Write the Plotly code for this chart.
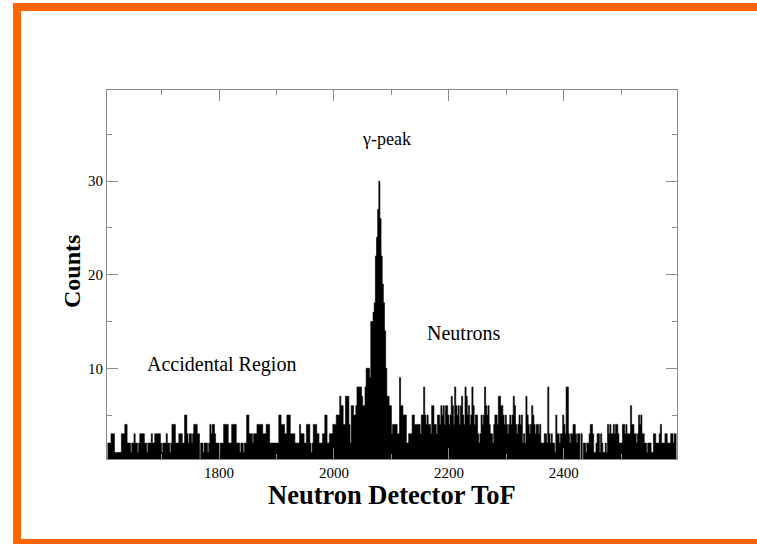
import numpy as np
import plotly.graph_objects as go

# Histogram of neutron detector time-of-flight: bins of 2 channels from 1606
bin_start = 1606
bin_width = 2

counts_1606_1706 = [2, 2, 2, 3, 3, 3, 1, 1, 1, 1, 1, 1, 3, 3, 3, 4, 4, 2, 2, 2,
                    1, 2, 2, 3, 2, 2, 1, 2, 3, 3, 3, 3, 2, 2, 1, 2, 2, 2, 3, 2,
                    2, 3, 3, 3, 3, 3, 2, 1, 2, 2]
counts_1706_1806 = [2, 3, 2, 2, 1, 2, 4, 4, 4, 2, 2, 2, 3, 3, 3, 2, 2, 5, 5, 3,
                    2, 3, 3, 2, 3, 4, 4, 4, 3, 3, 0, 2, 2, 1, 2, 2, 2, 1, 2, 4,
                    3, 4, 4, 3, 2, 2, 2, 1, 2, 2]
counts_1806_1906 = [2, 4, 4, 4, 4, 2, 2, 2, 4, 4, 4, 4, 2, 2, 2, 1, 2, 2, 1, 2,
                    2, 5, 5, 3, 3, 3, 2, 3, 3, 3, 4, 4, 4, 4, 4, 3, 3, 3, 4, 4,
                    4, 2, 2, 2, 2, 2, 2, 2, 2, 5]
counts_1906_2006 = [5, 4, 4, 4, 3, 3, 5, 5, 5, 3, 3, 3, 3, 2, 2, 2, 2, 4, 3, 3,
                    3, 2, 2, 4, 4, 4, 2, 1, 2, 4, 4, 4, 3, 3, 2, 2, 2, 3, 3, 5,
                    5, 2, 2, 3, 3, 3, 4, 4, 4, 5]
counts_2006_2106 = [5, 5, 7, 6, 6, 4, 4, 7, 7, 7, 4, 2, 6, 6, 5, 5, 6, 8, 8, 8,
                    8, 7, 6, 6, 8, 10, 10, 10, 9, 15, 15, 16, 17, 22, 24, 27, 30, 26, 22, 19,
                    17, 14, 10, 7, 7, 6, 6, 3, 4, 4]
counts_2106_2206 = [4, 4, 3, 3, 9, 6, 6, 5, 5, 5, 2, 2, 3, 3, 3, 5, 5, 4, 4, 4,
                    4, 4, 3, 5, 5, 8, 5, 4, 5, 4, 4, 3, 6, 6, 4, 4, 3, 5, 5, 4,
                    6, 5, 6, 4, 6, 6, 5, 4, 5, 7]
counts_2206_2306 = [6, 4, 8, 6, 5, 6, 4, 6, 7, 5, 4, 8, 7, 5, 6, 4, 5, 8, 6, 4,
                    5, 5, 3, 2, 3, 5, 4, 5, 8, 6, 5, 6, 4, 3, 3, 2, 4, 5, 5, 4,
                    7, 7, 6, 6, 5, 4, 5, 4, 3, 4]
counts_2306_2406 = [5, 4, 5, 7, 6, 4, 3, 4, 5, 4, 5, 2, 3, 2, 7, 5, 4, 3, 4, 6,
                    5, 4, 3, 4, 4, 3, 4, 2, 2, 2, 3, 3, 2, 8, 3, 2, 3, 2, 2, 1,
                    5, 3, 3, 2, 3, 3, 5, 4, 3, 8]
counts_2406_2506 = [8, 3, 2, 3, 3, 4, 4, 3, 2, 3, 3, 0, 3, 0, 2, 2, 1, 2, 2, 3,
                    4, 4, 3, 1, 1, 2, 3, 3, 1, 3, 2, 1, 1, 2, 1, 4, 3, 4, 3, 3,
                    4, 3, 4, 4, 3, 2, 2, 2, 4, 4]
counts_2506_2596 = [3, 4, 3, 3, 3, 6, 4, 4, 3, 3, 2, 3, 5, 4, 5, 3, 3, 2, 2, 1,
                    2, 2, 2, 1, 1, 3, 3, 2, 2, 2, 3, 4, 2, 2, 2, 3, 3, 2, 2, 2,
                    3, 3, 2, 3, 3]

counts = (counts_1606_1706 + counts_1706_1806 + counts_1806_1906 + counts_1906_2006
          + counts_2006_2106 + counts_2106_2206 + counts_2206_2306 + counts_2306_2406
          + counts_2406_2506 + counts_2506_2596)

x_ticks = [1800, 2000, 2200, 2400]
y_ticks = [10, 20, 30]

edges = bin_start + bin_width * np.arange(len(counts) + 1)
step_y = counts + [counts[-1]]

AXIS_GRAY = "#8a8a8a"
SERIF = "Liberation Serif"

fig = go.Figure()
fig.add_trace(go.Scatter(
    x=edges, y=step_y, mode="lines",
    line=dict(shape="hv", color="black", width=0.6),
    fill="tozeroy", fillcolor="black",
    hoverinfo="skip", showlegend=False,
))

axis_common = dict(
    showline=True, linecolor=AXIS_GRAY, linewidth=1,
    mirror="ticks", ticks="inside", ticklen=11, tickwidth=1, tickcolor=AXIS_GRAY,
    showgrid=False, zeroline=False,
    tickfont=dict(family=SERIF, size=15, color="black"),
)

fig.update_xaxes(
    range=[1605, 2597], tickvals=x_ticks,
    minor=dict(ticks="inside", ticklen=5, tickwidth=1, tickcolor=AXIS_GRAY, dtick=100, tick0=0),
    **axis_common,
)
fig.update_yaxes(
    range=[0.3, 39.75], tickvals=y_ticks,
    minor=dict(ticks="inside", ticklen=5, tickwidth=1, tickcolor=AXIS_GRAY, dtick=5, tick0=0),
    **axis_common,
)

label_font = dict(family=SERIF, size=20, color="black")
fig.add_annotation(x=2091, y=34.5, text="γ-peak", showarrow=False, font=dict(family=SERIF, size=18, color="black"))
fig.add_annotation(x=2227, y=13.8, text="Neutrons", showarrow=False, font=label_font)
fig.add_annotation(x=1804.5, y=10.45, text="Accidental Region", showarrow=False, font=label_font)

fig.add_annotation(xref="paper", yref="paper", x=0.5, y=-0.0545, text="Neutron Detector ToF",
                   showarrow=False, font=dict(family=SERIF, size=26.5, color="black", weight="bold"),
                   xanchor="center", yanchor="top", borderpad=0)
fig.add_annotation(xref="paper", yref="paper", x=-0.0614, y=0.5068, text="Counts", textangle=-90,
                   showarrow=False, font=dict(family=SERIF, size=24, color="black", weight="bold"),
                   xanchor="center", yanchor="middle")

# Orange slide frame (open on the right side)
fig.add_shape(type="rect", xref="paper", yref="paper",
              x0=-0.1579, x1=1.2158, y0=-0.2276, y1=1.2249,
              line=dict(color="#FF6600", width=8), fillcolor="rgba(0,0,0,0)", layer="above")

fig.update_layout(
    width=757, height=544,
    margin=dict(l=107, r=80, t=90, b=85),
    paper_bgcolor="white", plot_bgcolor="white",
    showlegend=False,
)

fig.write_html("out.html")
